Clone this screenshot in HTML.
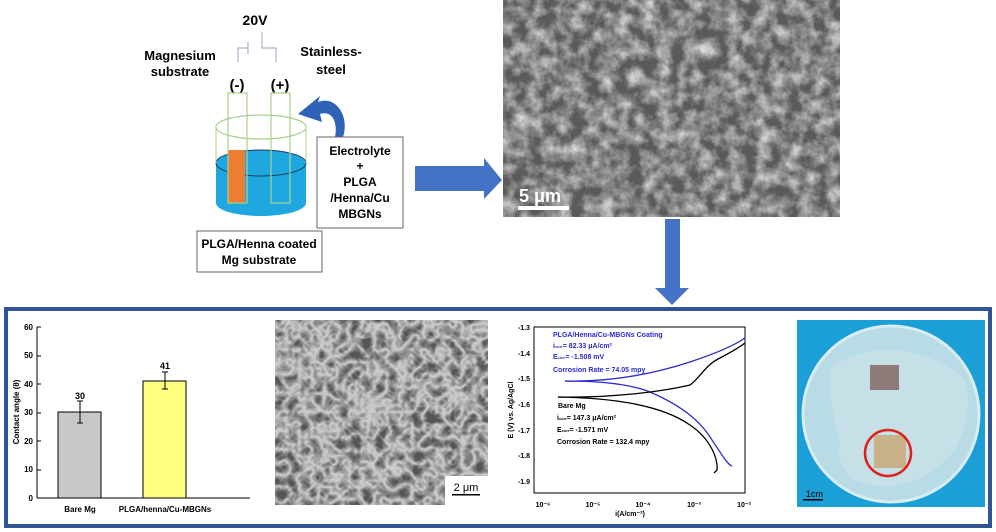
<!DOCTYPE html>
<html><head><meta charset="utf-8"><style>html,body{margin:0;padding:0;background:#fff}svg{display:block}text{font-family:"Liberation Sans",sans-serif}</style></head><body>
<svg width="996" height="532" viewBox="0 0 996 532" xmlns="http://www.w3.org/2000/svg">
<defs>
<filter id="sem1" x="0" y="0" width="100%" height="100%"><feTurbulence type="fractalNoise" baseFrequency="0.07" numOctaves="4" seed="3"/><feColorMatrix type="matrix" values="0 0 0 0 1  0 0 0 0 1  0 0 0 0 1  1.4 0 0 0 -0.45"/></filter>
<filter id="sem2" x="0" y="0" width="100%" height="100%"><feTurbulence type="turbulence" baseFrequency="0.08" numOctaves="2" seed="7"/><feColorMatrix type="matrix" values="0 0 0 0 1  0 0 0 0 1  0 0 0 0 1  -2 0 0 0 1.1"/></filter>
</defs>
<!-- schematic -->
<text x="255" y="25" font-size="14" font-weight="bold" text-anchor="middle">20V</text>
<polyline points="238,62 238,48 248,48" fill="none" stroke="#a9b4cc" stroke-width="1.2"/>
<line x1="248" y1="42" x2="248" y2="54" stroke="#a9b4cc" stroke-width="1.2"/>
<polyline points="262,32 262,48 276,48 276,62" fill="none" stroke="#a9b4cc" stroke-width="1.2"/>
<text x="180" y="60" font-size="13" font-weight="bold" text-anchor="middle">Magnesium</text>
<text x="180" y="76" font-size="13" font-weight="bold" text-anchor="middle">substrate</text>
<text x="331" y="56" font-size="13" font-weight="bold" text-anchor="middle">Stainless-</text>
<text x="331" y="74" font-size="13" font-weight="bold" text-anchor="middle">steel</text>
<text x="237" y="90" font-size="15" font-weight="bold" text-anchor="middle">(-)</text>
<text x="280" y="90" font-size="15" font-weight="bold" text-anchor="middle">(+)</text>
<path d="M216,163 L216,203 A45,13 0 0 0 306,203 L306,163 Z" fill="#1fa7e0"/>
<ellipse cx="261" cy="163" rx="45" ry="13" fill="#1fa7e0" stroke="#1a3b5a" stroke-width="1"/>
<line x1="216" y1="125" x2="216" y2="163" stroke="#a9d18e"/><line x1="306" y1="125" x2="306" y2="163" stroke="#a9d18e"/>
<ellipse cx="261" cy="127" rx="45" ry="12" fill="none" stroke="#a9d18e" stroke-width="1.2"/>
<rect x="228" y="150" width="17" height="53" fill="#ed7d31"/>
<rect x="228" y="93" width="19" height="110" fill="none" stroke="#a9d18e" stroke-width="1.2"/>
<rect x="271" y="93" width="19" height="110" fill="none" stroke="#a9d18e" stroke-width="1.2"/>
<path d="M343,137 C350,115 335,95 318,102 L320,96 L298,114 L322,122 L320,114 C332,110 338,122 335,137 Z" fill="#2e63b8"/>
<rect x="317" y="137" width="86" height="91" fill="#fff" stroke="#666"/>
<g font-size="12" font-weight="bold" text-anchor="middle"><text x="360" y="155">Electrolyte</text><text x="360" y="170">+</text><text x="360" y="186">PLGA</text><text x="360" y="202">/Henna/Cu</text><text x="360" y="218">MBGNs</text></g>
<rect x="197" y="231" width="125" height="41" fill="#fff" stroke="#666"/>
<g font-size="12" font-weight="bold" text-anchor="middle"><text x="259" y="248">PLGA/Henna coated</text><text x="259" y="264">Mg substrate</text></g>
<!-- arrows -->
<polygon points="415,166 484,166 484,158 502,180 484,199 484,191 415,191" fill="#4472c4"/>
<polygon points="665,219 680,219 680,288 689,288 672,305 655,288 665,288" fill="#4472c4"/>
<!-- SEM top -->
<rect x="503" y="0" width="337" height="217" fill="#5a5a5a"/>
<rect x="503" y="0" width="337" height="217" fill="#000" filter="url(#sem1)"/>
<text x="519" y="202" font-family="Liberation Serif" font-size="18" font-weight="bold" fill="#fff">5 μm</text>
<rect x="518" y="206" width="51" height="4" fill="#fff"/>
<!-- frame -->
<rect x="6" y="309" width="984" height="217" fill="none" stroke="#2f5597" stroke-width="4"/>
<!-- bar chart -->
<g font-size="8" font-weight="bold">
<line x1="37" y1="327" x2="37" y2="498" stroke="#000"/><line x1="37" y1="498" x2="250" y2="498" stroke="#000"/>
<g text-anchor="end"><text x="33" y="330">60</text><text x="33" y="358">50</text><text x="33" y="387">40</text><text x="33" y="415">30</text><text x="33" y="444">20</text><text x="33" y="472">10</text><text x="33" y="501">0</text></g>
<g stroke="#000"><line x1="37" y1="327" x2="41" y2="327"/><line x1="37" y1="356" x2="41" y2="356"/><line x1="37" y1="384" x2="41" y2="384"/><line x1="37" y1="413" x2="41" y2="413"/><line x1="37" y1="441" x2="41" y2="441"/><line x1="37" y1="470" x2="41" y2="470"/></g>
<rect x="58" y="412" width="43" height="86" fill="#c8c8c8" stroke="#000"/>
<rect x="143" y="381" width="43" height="117" fill="#ffff80" stroke="#000"/>
<path d="M80,401V423M77,401H83M77,423H83M165,372V389M162,372H168M162,389H168" stroke="#000"/>
<text x="80" y="399" text-anchor="middle" font-size="9">30</text><text x="165" y="369" text-anchor="middle" font-size="9">41</text>
<text x="80" y="512" text-anchor="middle">Bare Mg</text><text x="165" y="512" text-anchor="middle">PLGA/henna/Cu-MBGNs</text>
<text transform="translate(19,412) rotate(-90)" text-anchor="middle">Contact angle (θ)</text>
</g>
<!-- SEM bottom -->
<rect x="275" y="320" width="213" height="185" fill="#555"/>
<rect x="275" y="320" width="213" height="185" fill="#000" filter="url(#sem2)" opacity="0.7"/>
<rect x="445" y="476" width="43" height="29" fill="#fff"/>
<text x="466" y="491" font-size="11" text-anchor="middle">2 μm</text><rect x="452" y="494" width="28" height="1.5" fill="#000"/>
<!-- polarization -->
<g font-size="7" font-weight="bold">
<rect x="534" y="327" width="211" height="166" fill="none" stroke="#000"/>
<g text-anchor="end"><text x="530" y="330">-1.3</text><text x="530" y="356">-1.4</text><text x="530" y="381">-1.5</text><text x="530" y="407">-1.6</text><text x="530" y="433">-1.7</text><text x="530" y="458">-1.8</text><text x="530" y="484">-1.9</text></g>
<g text-anchor="middle"><text x="543" y="507">10⁻⁶</text><text x="593" y="507">10⁻⁵</text><text x="643" y="507">10⁻⁴</text><text x="694" y="507">10⁻³</text><text x="744" y="507">10⁻²</text><text x="630" y="516">i(A/cm⁻²)</text></g>
<text transform="translate(513,410) rotate(-90)" text-anchor="middle">E (V) vs. Ag/AgCl</text>
<path d="M565,381 C600,381 630,384 650,392 C680,405 700,420 712,440 C722,455 728,465 732,466" fill="none" stroke="#2b2bd0" stroke-width="1.3"/>
<path d="M565,381 C610,382 650,375 690,362 C720,352 735,345 745,338" fill="none" stroke="#2b2bd0" stroke-width="1.3"/>
<path d="M558,397 C610,398 660,392 690,385 C700,378 705,365 720,358 C735,350 740,347 745,343" fill="none" stroke="#000" stroke-width="1.3"/>
<path d="M558,397 C610,398 660,404 690,425 C712,440 718,460 717,470 L714,473" fill="none" stroke="#000" stroke-width="1.3"/>
<g fill="#2b2bd0"><text x="553" y="337">PLGA/Henna/Cu-MBGNs Coating</text><text x="553" y="348">i<tspan font-size="4">corr</tspan>= 82.33 μA/cm²</text><text x="553" y="359">E<tspan font-size="4">corr</tspan>= -1.508 mV</text><text x="553" y="372">Corrosion Rate = 74.05 mpy</text></g>
<text x="558" y="408">Bare Mg</text><text x="557" y="420">i<tspan font-size="4">corr</tspan>= 147.3 μA/cm²</text><text x="557" y="432">E<tspan font-size="4">corr</tspan>= -1.571 mV</text><text x="557" y="444">Corrosion Rate = 132.4 mpy</text>
</g>
<!-- petri -->
<rect x="797" y="320" width="188" height="187" fill="#1a9fd6"/>
<circle cx="891" cy="414" r="88" fill="#b9dbe6" stroke="#d8ecf2" stroke-width="3"/>
<path d="M830,370 C860,340 930,345 965,380 C975,420 960,470 900,485 C850,490 835,470 840,440 C832,420 830,395 830,370 Z" fill="#c6e0e8"/>
<rect x="870" y="365" width="29" height="25" fill="#8e7a78"/>
<rect x="874" y="435" width="32" height="33" fill="#c9b28a"/>
<circle cx="888" cy="453" r="23" fill="none" stroke="#e0201c" stroke-width="2.5"/>
<text x="806" y="497" font-size="9">1cm</text><rect x="803" y="499" width="20" height="1.5" fill="#000"/>
</svg>
</body></html>
